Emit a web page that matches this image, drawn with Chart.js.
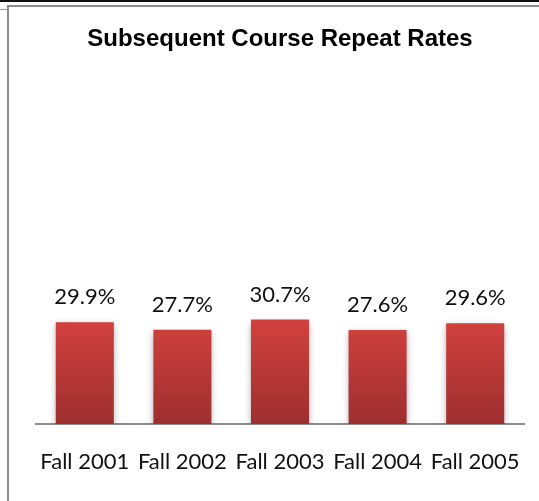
<!DOCTYPE html>
<html>
<head>
<meta charset="utf-8">
<script src="https://cdn.jsdelivr.net/npm/chart.js@4/dist/chart.umd.min.js"></script>
<style>
  html, body { margin: 0; padding: 0; background: #fff; }
  #wrap { position: relative; width: 539px; height: 501px; overflow: hidden; }
  #chart { position: absolute; left: 0; top: 0; }
  .ln { position: absolute; }
</style>
</head>
<body>
<div id="wrap">
  <div class="ln" style="left:0;top:0;width:539px;height:2px;background:#111;"></div>
  <div class="ln" style="left:7px;top:5px;width:532px;height:2px;background:#8c8c8c;"></div>
  <div class="ln" style="left:7px;top:5px;width:2px;height:496px;background:#8c8c8c;"></div>
  <div class="ln" style="left:0;top:9px;width:7px;height:1px;background:#9a9a9a;"></div>
  <canvas id="chart" width="539" height="501"></canvas>
</div>
<script>
// ── Data ──────────────────────────────────────────────────────
const TITLE = 'Subsequent Course Repeat Rates';
const terms = ['Fall 2001', 'Fall 2002', 'Fall 2003', 'Fall 2004', 'Fall 2005'];
const repeatRates = [29.9, 27.7, 30.7, 27.6, 29.6];

const LABEL_FONT = "'Lato', 'Open Sans', sans-serif";

// value labels above bars
const valueLabels = {
  id: 'valueLabels',
  afterDatasetsDraw(chart) {
    const ctx = chart.ctx;
    const meta = chart.getDatasetMeta(0);
    ctx.save();
    ctx.font = '22px ' + LABEL_FONT;
    ctx.fillStyle = '#111';
    ctx.textAlign = 'center';
    ctx.textBaseline = 'alphabetic';
    meta.data.forEach((bar, i) => {
      ctx.fillText(repeatRates[i].toFixed(1) + '%', bar.x, bar.y - 18);
    });
    ctx.restore();
  }
};

// soft shadow behind bars
const barShadow = {
  id: 'barShadow',
  beforeDatasetsDraw(chart) {
    const ctx = chart.ctx;
    ctx.save();
    ctx.shadowColor = 'rgba(0,0,0,0.35)';
    ctx.shadowBlur = 7;
    ctx.shadowOffsetX = 0;
    ctx.shadowOffsetY = 3;
  },
  afterDatasetsDraw(chart) {
    chart.ctx.restore();
  }
};

function barGradient(context) {
  const chart = context.chart;
  const area = chart.chartArea;
  if (!area) return '#b83634';
  const y = chart.scales.y;
  const g = chart.ctx.createLinearGradient(0, y.getPixelForValue(31), 0, area.bottom);
  g.addColorStop(0, '#d2413f');
  g.addColorStop(1, '#9e2f2e');
  return g;
}

new Chart(document.getElementById('chart'), {
  type: 'bar',
  data: {
    labels: terms,
    datasets: [{
      data: repeatRates,
      backgroundColor: barGradient,
      borderWidth: 0,
      barPercentage: 0.595,
      categoryPercentage: 1
    }]
  },
  options: {
    responsive: false,
    animation: false,
    layout: { padding: { left: 36, right: 15, top: 0, bottom: 0 } },
    plugins: {
      legend: { display: false },
      tooltip: { enabled: false },
      title: {
        display: true,
        text: TITLE,
        color: '#000',
        font: { family: "'Liberation Sans', Arial, sans-serif", size: 24, weight: 'bold' },
        padding: { top: 25, bottom: 30 }
      }
    },
    scales: {
      x: {
        z: 1,
        grid: { display: false, drawTicks: false },
        border: { display: true, color: '#8c8c8c', width: 2 },
        ticks: { color: '#111', font: { family: LABEL_FONT, size: 22 }, padding: 25, maxRotation: 0 },
        afterFit(scale) {
          scale.height = 77;
          // tick padding should not eat into the sides
          scale.paddingLeft = 0;
          scale.paddingRight = 0;
        }
      },
      y: {
        display: false,
        min: 0,
        max: 100
      }
    }
  },
  plugins: [barShadow, valueLabels]
});
</script>
</body>
</html>
